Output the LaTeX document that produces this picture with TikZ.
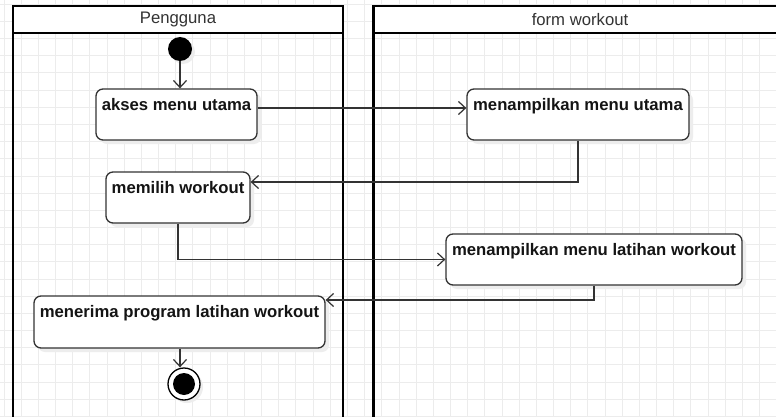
\documentclass[tikz,border=0pt]{standalone}
\usepackage{fontspec}
\setmainfont{Liberation Sans}
\usetikzlibrary{arrows.meta,shadows}
\definecolor{gridgray}{RGB}{236,236,236}
\definecolor{linegray}{RGB}{51,51,51}

\begin{document}
\begin{tikzpicture}[x=1pt, y=-1pt, >={Straight Barb[length=7pt,width=13pt]},
    lane/.style={draw=black, line width=2.6pt},
    lanetext/.style={text=linegray, font=\fontsize{16.7}{20}\selectfont},
    act/.style={draw=linegray, line width=1.3pt, rounded corners=7pt, fill=white,
        minimum height=51pt, inner sep=0pt,
        drop shadow={shadow xshift=4pt, shadow yshift=-4pt, fill=black!7, opacity=1}},
    acttext/.style={anchor=base, yshift=-22pt, inner sep=0pt, text=black!92,
        font=\bfseries\fontsize{16.7}{20}\selectfont},
    flow/.style={->, draw=linegray, line width=1.2pt}]
    \path[use as bounding box, clip] (0,0) rectangle (776,417);
    \fill[white] (0,0) rectangle (776,417);
    % grid
    \foreach \k in {0,...,45} \draw[gridgray, line width=0.8pt] ({4+17.17*\k},0) -- ({4+17.17*\k},417);
    \foreach \k in {0,...,24} \draw[gridgray, line width=0.8pt] (0,{4.2+17.17*\k}) -- (776,{4.2+17.17*\k});
    % swimlanes
    \draw[lane] (13,6) rectangle (343,430);
    \filldraw[lane, fill=white] (13,6) rectangle (343,33);
    \node[lanetext] (pengguna) at (178,19.5) {Pengguna};
    \draw[lane] (373.5,6) rectangle (790,430);
    \filldraw[lane, fill=white] (373.5,6) rectangle (790,33);
    \node[lanetext] (form) at (580,19.5) {form workout};
    % nodes
    \node[circle, fill=black, minimum size=24pt, inner sep=0pt,
        drop shadow={shadow xshift=3pt, shadow yshift=-3pt, fill=black!7, opacity=1}] (start) at (180,49) {};
    \node[act, minimum width=161pt, label={[acttext]north:akses menu utama}] (akses) at (176.5,114.5) {};
    \node[act, minimum width=222pt, label={[acttext]north:menampilkan menu utama}] (menu) at (578,114.5) {};
    \node[act, minimum width=144pt, label={[acttext]north:memilih workout}] (pilih) at (178,197.5) {};
    \node[act, minimum width=296pt, label={[acttext]north:menampilkan menu latihan workout}] (latihan) at (594,259.5) {};
    \node[act, minimum width=291pt, minimum height=52pt, label={[acttext]north:menerima program latihan workout}] (terima) at (179.5,322) {};
    \node[circle, draw=black, line width=1.3pt, fill=white, minimum size=32pt, inner sep=0pt,
        drop shadow={shadow xshift=3pt, shadow yshift=-3pt, fill=black!7, opacity=1}] (stop) at (184,384) {};
    \fill[black] (stop.center) circle[radius=11];
    % connectors
    \draw[flow] (start) -- (start |- akses.north);
    \draw[flow] ([yshift=6.5pt]akses.east) -- ([yshift=6.5pt]menu.west);
    \draw[flow] (menu.south) |- ([yshift=15.5pt]pilih.east);
    \draw[flow] (pilih.south) |- (latihan.west);
    \draw[flow] (latihan.south) |- ([yshift=22pt]terima.east);
    \draw[flow] ([xshift=0.5pt]terima.south) -- ([xshift=0.5pt]terima.south |- stop.north);
\end{tikzpicture}
\end{document}
